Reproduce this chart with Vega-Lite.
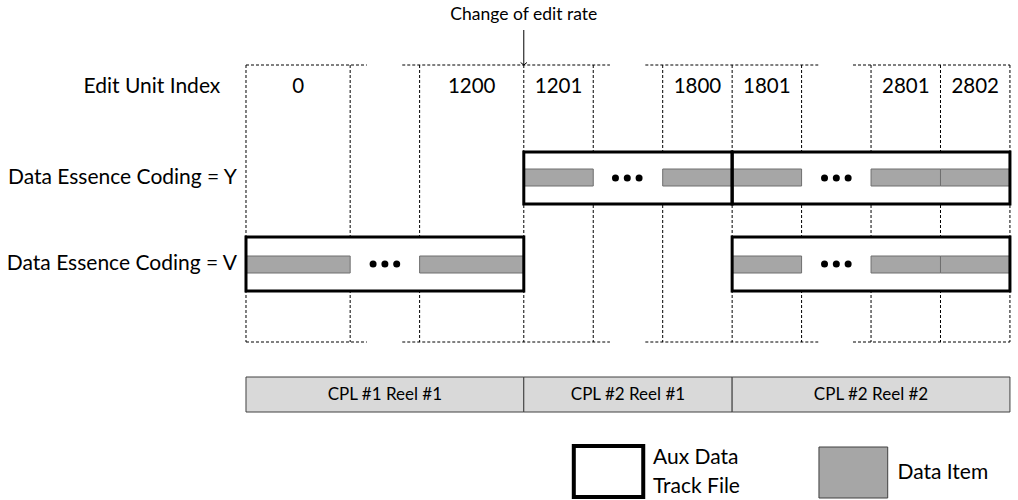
{
  "$schema": "https://vega.github.io/schema/vega-lite/v6.json",
  "width": 1018,
  "height": 500,
  "autosize": {"type": "none"},
  "padding": 0,
  "background": "white",
  "config": {"view": {"stroke": null}, "text": {"font": "Lato"}},
  "datasets": {
    "vlines": [
      {"u": 0, "top": 65, "bottom": 342}, {"u": 1.5, "top": 65, "bottom": 342},
      {"u": 2.5, "top": 65, "bottom": 342}, {"u": 4, "top": 65, "bottom": 342},
      {"u": 5, "top": 65, "bottom": 342}, {"u": 6, "top": 65, "bottom": 342},
      {"u": 7, "top": 65, "bottom": 342}, {"u": 8, "top": 65, "bottom": 342},
      {"u": 9, "top": 65, "bottom": 342}, {"u": 10, "top": 65, "bottom": 342},
      {"u": 11, "top": 65, "bottom": 342}
    ],
    "hsegs": [
      {"u": 0, "u2": 1.74, "y": 65}, {"u": 2.25, "u2": 5.24, "y": 65},
      {"u": 5.75, "u2": 8.24, "y": 65}, {"u": 8.74, "u2": 11, "y": 65},
      {"u": 0, "u2": 1.74, "y": 342}, {"u": 2.25, "u2": 5.24, "y": 342},
      {"u": 5.75, "u2": 8.24, "y": 342}, {"u": 8.74, "u2": 11, "y": 342}
    ],
    "boxes": [
      {"row": "Y", "u": 4, "u2": 7, "y": 152, "y2": 204},
      {"row": "Y", "u": 7, "u2": 11, "y": 152, "y2": 204},
      {"row": "V", "u": 0, "u2": 4, "y": 237, "y2": 291},
      {"row": "V", "u": 7, "u2": 11, "y": 237, "y2": 291}
    ],
    "items": [
      {"row": "Y", "u": 4, "u2": 5, "y": 169, "y2": 186},
      {"row": "Y", "u": 6, "u2": 7, "y": 169, "y2": 186},
      {"row": "Y", "u": 7, "u2": 8, "y": 169, "y2": 186},
      {"row": "Y", "u": 9, "u2": 10, "y": 169, "y2": 186},
      {"row": "Y", "u": 10, "u2": 11, "y": 169, "y2": 186},
      {"row": "V", "u": 0, "u2": 1.5, "y": 256, "y2": 273},
      {"row": "V", "u": 2.5, "u2": 4, "y": 256, "y2": 273},
      {"row": "V", "u": 7, "u2": 8, "y": 256, "y2": 273},
      {"row": "V", "u": 9, "u2": 10, "y": 256, "y2": 273},
      {"row": "V", "u": 10, "u2": 11, "y": 256, "y2": 273}
    ],
    "dots": [
      {"u": 5.32, "y": 178}, {"u": 5.49, "y": 178}, {"u": 5.66, "y": 178},
      {"u": 8.33, "y": 178}, {"u": 8.5, "y": 178}, {"u": 8.67, "y": 178},
      {"u": 1.83, "y": 264}, {"u": 2.0, "y": 264}, {"u": 2.17, "y": 264},
      {"u": 8.33, "y": 264}, {"u": 8.5, "y": 264}, {"u": 8.67, "y": 264}
    ],
    "indices": [
      {"u": 0.75, "label": "0"}, {"u": 3.25, "label": "1200"},
      {"u": 4.5, "label": "1201"}, {"u": 6.5, "label": "1800"},
      {"u": 7.5, "label": "1801"}, {"u": 9.5, "label": "2801"},
      {"u": 10.5, "label": "2802"}
    ],
    "rowlabels": [
      {"u": -0.37, "y": 87, "label": "Edit Unit Index"},
      {"u": -0.13, "y": 178, "label": "Data Essence Coding = Y"},
      {"u": -0.13, "y": 264, "label": "Data Essence Coding = V"}
    ],
    "reels": [
      {"u": 0, "u2": 4, "y": 377, "y2": 412, "label": "CPL #1 Reel #1"},
      {"u": 4, "u2": 7, "y": 377, "y2": 412, "label": "CPL #2 Reel #1"},
      {"u": 7, "u2": 11, "y": 377, "y2": 412, "label": "CPL #2 Reel #2"}
    ],
    "legtext": [
      {"u": 5.86, "y": 458, "label": "Aux Data"},
      {"u": 5.86, "y": 487, "label": "Track File"},
      {"u": 9.38, "y": 473, "label": "Data Item"}
    ]
  },
  "layer": [
    {
      "data": {"name": "vlines"},
      "mark": {"type": "rule", "color": "black", "strokeWidth": 1, "strokeDash": [3, 2]},
      "encoding": {
        "x": {"field": "u", "type": "quantitative", "scale": {"domain": [-3.542, 11.116], "nice": false, "zero": false}, "axis": null},
        "y": {"field": "top", "type": "quantitative", "scale": {"domain": [0, 500], "reverse": true, "nice": false, "zero": false}, "axis": null},
        "y2": {"field": "bottom"}
      }
    },
    {
      "data": {"name": "hsegs"},
      "mark": {"type": "rule", "color": "black", "strokeWidth": 1, "strokeDash": [3, 2]},
      "encoding": {
        "x": {"field": "u", "type": "quantitative"},
        "x2": {"field": "u2"},
        "y": {"field": "y", "type": "quantitative"}
      }
    },
    {
      "data": {"name": "boxes"},
      "mark": {"type": "rect", "fill": "white", "strokeWidth": 0},
      "encoding": {
        "x": {"field": "u", "type": "quantitative"}, "x2": {"field": "u2"},
        "y": {"field": "y", "type": "quantitative"}, "y2": {"field": "y2"}
      }
    },
    {
      "data": {"name": "items"},
      "mark": {"type": "rect", "fill": "#a6a6a6", "stroke": "#6f6f6f", "strokeWidth": 1},
      "encoding": {
        "x": {"field": "u", "type": "quantitative"}, "x2": {"field": "u2"},
        "y": {"field": "y", "type": "quantitative"}, "y2": {"field": "y2"}
      }
    },
    {
      "data": {"name": "boxes"},
      "mark": {"type": "rect", "fill": "white", "fillOpacity": 0, "stroke": "black", "strokeWidth": 3},
      "encoding": {
        "x": {"field": "u", "type": "quantitative"}, "x2": {"field": "u2"},
        "y": {"field": "y", "type": "quantitative"}, "y2": {"field": "y2"}
      }
    },
    {
      "data": {"name": "dots"},
      "mark": {"type": "point", "shape": "circle", "filled": true, "color": "black", "size": 49, "opacity": 1},
      "encoding": {
        "x": {"field": "u", "type": "quantitative"},
        "y": {"field": "y", "type": "quantitative"}
      }
    },
    {
      "data": {"name": "indices"},
      "mark": {"type": "text", "fontSize": 20.5, "color": "black", "align": "center", "baseline": "middle"},
      "encoding": {
        "x": {"field": "u", "type": "quantitative"},
        "y": {"datum": 87, "type": "quantitative"},
        "text": {"field": "label"}
      }
    },
    {
      "data": {"name": "rowlabels"},
      "mark": {"type": "text", "fontSize": 21, "color": "black", "align": "right", "baseline": "middle"},
      "encoding": {
        "x": {"field": "u", "type": "quantitative"},
        "y": {"field": "y", "type": "quantitative"},
        "text": {"field": "label"}
      }
    },
    {
      "data": {"values": [{"u": 4, "y": 30, "y2": 65, "label": "Change of edit rate"}]},
      "layer": [
        {
          "mark": {"type": "rule", "color": "black", "strokeWidth": 1},
          "encoding": {
            "x": {"field": "u", "type": "quantitative"},
            "y": {"field": "y", "type": "quantitative"}, "y2": {"field": "y2"}
          }
        },
        {
          "mark": {"type": "point", "shape": "M-1,-0.8L0,0L1,-0.8", "filled": false, "color": "black", "strokeWidth": 1, "size": 40, "opacity": 1},
          "encoding": {
            "x": {"field": "u", "type": "quantitative"},
            "y": {"field": "y2", "type": "quantitative"}
          }
        },
        {
          "mark": {"type": "text", "fontSize": 17.5, "color": "black", "align": "center", "baseline": "middle"},
          "encoding": {
            "x": {"field": "u", "type": "quantitative"},
            "y": {"datum": 15, "type": "quantitative"},
            "text": {"field": "label"}
          }
        }
      ]
    },
    {
      "data": {"name": "reels"},
      "layer": [
        {
          "mark": {"type": "rect", "fill": "#d9d9d9", "stroke": "#404040", "strokeWidth": 1},
          "encoding": {
            "x": {"field": "u", "type": "quantitative"}, "x2": {"field": "u2"},
            "y": {"field": "y", "type": "quantitative"}, "y2": {"field": "y2"}
          }
        },
        {
          "transform": [{"calculate": "(datum.u + datum.u2) / 2", "as": "mid"}],
          "mark": {"type": "text", "fontSize": 17, "color": "black", "align": "center", "baseline": "middle"},
          "encoding": {
            "x": {"field": "mid", "type": "quantitative"},
            "y": {"datum": 395, "type": "quantitative"},
            "text": {"field": "label"}
          }
        }
      ]
    },
    {
      "data": {"values": [{"kind": "aux", "u": 4.72, "u2": 5.72, "y": 446, "y2": 497}]},
      "mark": {"type": "rect", "fill": "white", "stroke": "black", "strokeWidth": 4},
      "encoding": {
        "x": {"field": "u", "type": "quantitative"}, "x2": {"field": "u2"},
        "y": {"field": "y", "type": "quantitative"}, "y2": {"field": "y2"}
      }
    },
    {
      "data": {"values": [{"kind": "item", "u": 8.25, "u2": 9.24, "y": 447, "y2": 498}]},
      "mark": {"type": "rect", "fill": "#a6a6a6", "stroke": "#404040", "strokeWidth": 1},
      "encoding": {
        "x": {"field": "u", "type": "quantitative"}, "x2": {"field": "u2"},
        "y": {"field": "y", "type": "quantitative"}, "y2": {"field": "y2"}
      }
    },
    {
      "data": {"name": "legtext"},
      "mark": {"type": "text", "fontSize": 21, "color": "black", "align": "left", "baseline": "middle"},
      "encoding": {
        "x": {"field": "u", "type": "quantitative"},
        "y": {"field": "y", "type": "quantitative"},
        "text": {"field": "label"}
      }
    }
  ]
}
